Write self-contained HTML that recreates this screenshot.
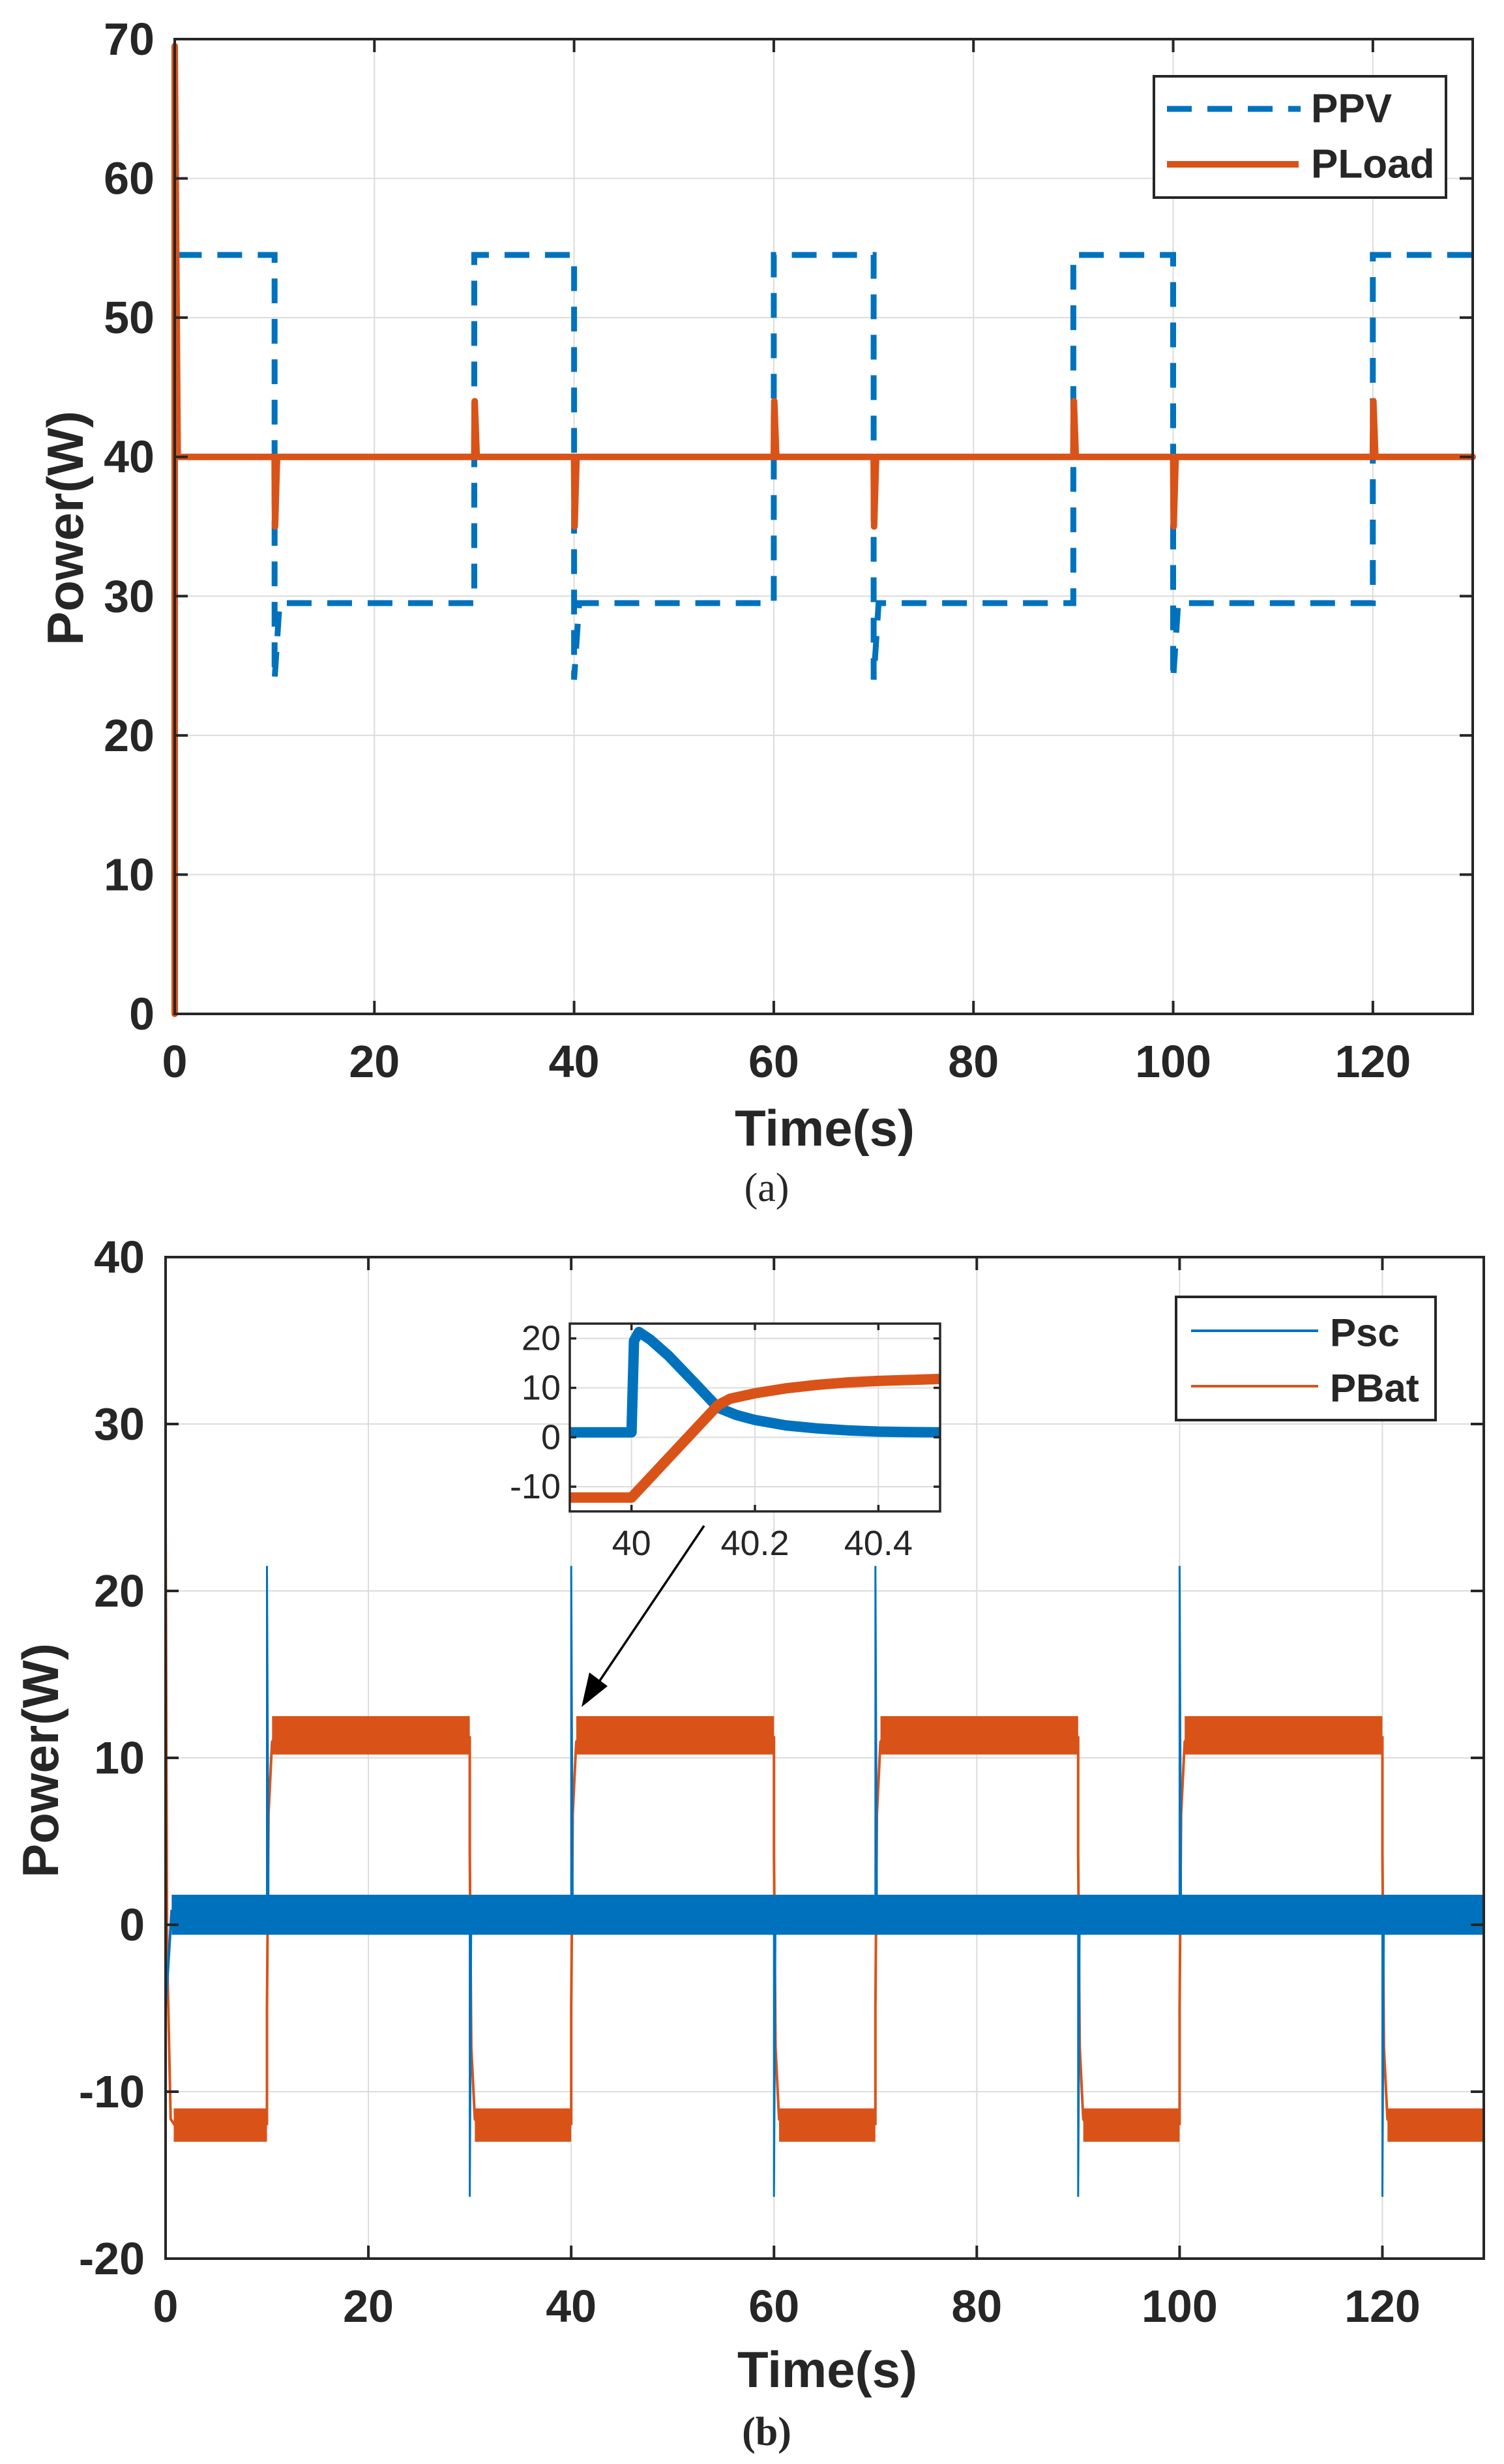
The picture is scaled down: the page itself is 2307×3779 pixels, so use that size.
<!DOCTYPE html>
<html><head><meta charset="utf-8"><style>
html,body{margin:0;padding:0;background:#fff}
svg{display:block}
text{font-family:"Liberation Sans",Arial,sans-serif;fill:#262626}
</style></head><body>
<svg id="fig" width="2307" height="3779" viewBox="0 0 2307 3779" xmlns="http://www.w3.org/2000/svg"></svg>
<script>
// ---------- Chart (a) data ----------
const aXTicks = [0,20,40,60,80,100,120];
const aYTicks = [0,10,20,30,40,50,60,70];
const ppvT = [0,0.2,10,10,10.5,30,30,40,40,40.5,60,60,70,70,70.5,90,90,100,100,100.5,120,120,130];
const ppvP = [40,54.5,54.5,24,29.5,29.5,54.5,54.5,24,29.5,29.5,54.5,54.5,24,29.5,29.5,54.5,54.5,24,29.5,29.5,54.5,54.5];
const ploadT = [0,0,0.3,10,10.05,10.25,30,30.05,30.25,40,40.05,40.25,60,60.05,60.25,70,70.05,70.25,90,90.05,90.25,100,100.05,100.25,120,120.05,120.25,130];
const ploadP = [0,69.5,40,40,35,40,40,44,40,40,35,40,40,44,40,40,35,40,40,44,40,40,35,40,40,44,40,40];
// ---------- Chart (b) data ----------
const bXTicks = [0,20,40,60,80,100,120];
const bYTicks = [-20,-10,0,10,20,30,40];
const segStart = [0,10,30,40,60,70,90,100,120];
const segEnd   = [10,30,40,60,70,90,100,120,130];
const batLo    = [-13,10.2,-13,10.2,-13,10.2,-13,10.2,-13];
const batHi    = [-11,12.5,-11,12.5,-11,12.5,-11,12.5,-11];
const batMean  = [-12,11.3,-12,11.3,-12,11.3,-12,11.3,-12];
const pscLo = -0.6, pscHi = 1.8;
const spikeT = [10,30,40,60,70,90,100,120];
const spikeV = [21.5,-16.3,21.5,-16.3,21.5,-16.3,21.5,-16.3];
// ---------- Inset data ----------
const inXTicks = [40,40.2,40.4];
const inYTicks = [-10,0,10,20];
const inPscT = [39.9,40.0,40.004,40.012,40.03,40.06,40.1,40.14,40.17,40.2,40.25,40.3,40.35,40.4,40.45,40.5];
const inPscP = [1,1,19.5,21.3,19.8,16.5,11.3,6,4.5,3.5,2.4,1.8,1.4,1.15,1.05,1];
const inBatT = [39.9,40.0,40.14,40.16,40.2,40.25,40.3,40.35,40.4,40.45,40.5];
const inBatP = [-12.2,-12.2,6.5,7.8,8.9,9.9,10.6,11.1,11.4,11.6,11.8];

const NS = "http://www.w3.org/2000/svg";
const svg = document.getElementById('fig');
const BLUE="#0072BD", ORANGE="#D95319", AX="#262626", GRID="#dcdcdc";
function mk(tag, attrs, parent){const e=document.createElementNS(NS,tag);for(const k in attrs)e.setAttribute(k,attrs[k]);(parent||svg).appendChild(e);return e;}

function axes(cfg){
  const g = mk('g',{});
  
  
  const X=v=>cfg.L+(v-cfg.x0)/(cfg.x1-cfg.x0)*(cfg.R-cfg.L);
  const Y=v=>cfg.B-(v-cfg.y0)/(cfg.y1-cfg.y0)*(cfg.B-cfg.T);
  mk('rect',{x:cfg.L,y:cfg.T,width:cfg.R-cfg.L,height:cfg.B-cfg.T,fill:'#fff'},g);
  cfg.xt.forEach(v=>{
    const gl=mk('line',{x1:X(v),x2:X(v),y1:cfg.T,y2:cfg.B,stroke:GRID,'stroke-width':cfg.gw},g);
    
    
  });
  cfg.yt.forEach(v=>{
    const gl=mk('line',{x1:cfg.L,x2:cfg.R,y1:Y(v),y2:Y(v),stroke:GRID,'stroke-width':cfg.gw},g);
    
    
  });
  return {g,X,Y};
}
function frame(cfg,g,X,Y){
  const tl=cfg.tl;
  cfg.xt.forEach(v=>{
    mk('line',{x1:X(v),x2:X(v),y1:cfg.B,y2:cfg.B-tl,stroke:AX,'stroke-width':cfg.aw},g);
    mk('line',{x1:X(v),x2:X(v),y1:cfg.T,y2:cfg.T+tl,stroke:AX,'stroke-width':cfg.aw},g);
    const t=mk('text',{x:X(v),y:cfg.xly,'text-anchor':'middle','dominant-baseline':'central','font-size':cfg.fs,'font-weight':cfg.fw},g);
    t.textContent=cfg.xfmt?cfg.xfmt(v):v;
    
    
  });
  cfg.yt.forEach(v=>{
    mk('line',{x1:cfg.L,x2:cfg.L+tl,y1:Y(v),y2:Y(v),stroke:AX,'stroke-width':cfg.aw},g);
    mk('line',{x1:cfg.R,x2:cfg.R-tl,y1:Y(v),y2:Y(v),stroke:AX,'stroke-width':cfg.aw},g);
    const t=mk('text',{x:cfg.ylx,y:Y(v),'text-anchor':'end','dominant-baseline':'central','font-size':cfg.fs,'font-weight':cfg.fw},g);
    t.textContent=v;
    
    
  });
  const fr=mk('rect',{x:cfg.L,y:cfg.T,width:cfg.R-cfg.L,height:cfg.B-cfg.T,fill:'none',stroke:AX,'stroke-width':cfg.aw},g);
  
  
}
function pathFrom(ts,vs,X,Y){return ts.map((t,i)=>(i?'L':'M')+X(t).toFixed(1)+' '+Y(vs[i]).toFixed(1)).join(' ');}

// ===== Chart (a) =====
const ca={name:'chart-a',L:268,R:2259,T:60,B:1555,x0:0,x1:130,y0:0,y1:70,xt:aXTicks,yt:aYTicks,gw:2,aw:4,tl:20,fs:70,fw:'bold',ylx:237,xly:1628};
let A=axes(ca);
const ppv=mk('path',{d:pathFrom(ppvT,ppvP,A.X,A.Y),fill:'none',stroke:BLUE,'stroke-width':9,'stroke-dasharray':'38 24'},A.g);


const pl=mk('path',{d:pathFrom(ploadT,ploadP,A.X,A.Y),fill:'none',stroke:ORANGE,'stroke-width':10,'stroke-linejoin':'round','stroke-linecap':'round'},A.g);


frame(ca,A.g,A.X,A.Y);
// legend a
const lga=mk('g',{});


mk('rect',{x:1770,y:117,width:448,height:186,fill:'#fff',stroke:AX,'stroke-width':4},lga);
mk('line',{x1:1790,x2:1995,y1:167,y2:167,stroke:BLUE,'stroke-width':9,'stroke-dasharray':'38 24'},lga);
mk('line',{x1:1790,x2:1992,y1:252,y2:252,stroke:ORANGE,'stroke-width':10},lga);
let t=mk('text',{x:2011,y:167,'dominant-baseline':'central','font-size':62,'font-weight':'bold',fill:'#000'},lga);t.textContent='PPV';


t=mk('text',{x:2011,y:252,'dominant-baseline':'central','font-size':62,'font-weight':'bold',fill:'#000'},lga);t.textContent='PLoad';


t=mk('text',{x:1265,y:1730,'text-anchor':'middle','dominant-baseline':'central','font-size':78,'font-weight':'bold'});t.textContent='Time(s)';


t=mk('text',{x:100,y:810,'text-anchor':'middle','dominant-baseline':'central','font-size':78,'font-weight':'bold',transform:'rotate(-90 100 810)'});t.textContent='Power(W)';


t=mk('text',{x:1176,y:1822,'text-anchor':'middle','dominant-baseline':'central','font-size':62,style:'font-family:"Liberation Serif",serif',fill:'#000'});t.textContent='(a)';



// ===== Chart (b) =====
const cb={name:'chart-b',L:254,R:2276,T:1928,B:3464,x0:0,x1:130,y0:-20,y1:40,xt:bXTicks,yt:bYTicks,gw:2,aw:4,tl:20,fs:70,fw:'bold',ylx:222,xly:3537};
let B=axes(cb);
// PBat bands
segStart.forEach((s,i)=>{
  const x0=B.X(s+(s===0?0.8:0.5)), x1=B.X(segEnd[i]);
  const r=mk('rect',{x:x0,y:B.Y(batHi[i]),width:x1-x0,height:B.Y(batLo[i])-B.Y(batHi[i]),fill:ORANGE},B.g);
  
  
  const prev = i===0 ? 40 : batMean[i-1];
  const tr=mk('path',{d:pathFrom([s,s,s+0.15,s+0.5,s+0.9],[prev,prev+(batMean[i]-prev)*0.3,prev+(batMean[i]-prev)*0.8,batMean[i]*0.97,batMean[i]],B.X,B.Y),fill:'none',stroke:ORANGE,'stroke-width':4},B.g);
  
  
});
// Psc band
const pb=mk('rect',{x:B.X(0.6),y:B.Y(pscHi),width:B.X(130)-B.X(0.6),height:B.Y(pscLo)-B.Y(pscHi),fill:BLUE},B.g);


const ps0=mk('path',{d:pathFrom([0,0,0.6],[-20,-5,0.9],B.X,B.Y),fill:'none',stroke:BLUE,'stroke-width':4},B.g);


spikeT.forEach((s,i)=>{
  const sp=mk('path',{d:pathFrom([s,s,s+0.15],[0.9,spikeV[i],0.9],B.X,B.Y),fill:'none',stroke:BLUE,'stroke-width':3},B.g);
  
  
});
frame(cb,B.g,B.X,B.Y);
// legend b
const lgb=mk('g',{});


mk('rect',{x:1804,y:1989,width:398,height:189,fill:'#fff',stroke:AX,'stroke-width':4},lgb);
mk('line',{x1:1827,x2:2022,y1:2041,y2:2041,stroke:BLUE,'stroke-width':4},lgb);
mk('line',{x1:1827,x2:2022,y1:2126,y2:2126,stroke:ORANGE,'stroke-width':4},lgb);
t=mk('text',{x:2040,y:2044,'dominant-baseline':'central','font-size':60,'font-weight':'bold',fill:'#000'},lgb);t.textContent='Psc';


t=mk('text',{x:2040,y:2129,'dominant-baseline':'central','font-size':60,'font-weight':'bold',fill:'#000'},lgb);t.textContent='PBat';


// inset
const ci={name:'inset-chart',L:874,R:1442,T:2030,B:2318,x0:39.9,x1:40.5,y0:-15,y1:23,xt:inXTicks,yt:inYTicks,gw:2,aw:3.5,tl:10,fs:54,fw:'normal',ylx:860,xly:2367,xfmt:v=>String(v)};
let I=axes(ci);
const ip=mk('path',{d:pathFrom(inPscT,inPscP,I.X,I.Y),fill:'none',stroke:BLUE,'stroke-width':16,'stroke-linejoin':'round'},I.g);


const ib=mk('path',{d:pathFrom(inBatT,inBatP,I.X,I.Y),fill:'none',stroke:ORANGE,'stroke-width':16,'stroke-linejoin':'round'},I.g);


frame(ci,I.g,I.X,I.Y);
// arrow
const ar=mk('g',{});


mk('line',{x1:1080,y1:2340,x2:915,y2:2585,stroke:'#000','stroke-width':3.5},ar);
mk('polygon',{points:'892,2618 904,2565 932,2586',fill:'#000'},ar);
t=mk('text',{x:1269,y:3634,'text-anchor':'middle','dominant-baseline':'central','font-size':78,'font-weight':'bold'});t.textContent='Time(s)';


t=mk('text',{x:62,y:2700,'text-anchor':'middle','dominant-baseline':'central','font-size':78,'font-weight':'bold',transform:'rotate(-90 62 2700)'});t.textContent='Power(W)';


t=mk('text',{x:1176,y:3730,'text-anchor':'middle','dominant-baseline':'central','font-size':62,style:'font-family:"Liberation Serif",serif','font-weight':'bold',fill:'#000'});t.textContent='(b)';


</script>
</body></html>
